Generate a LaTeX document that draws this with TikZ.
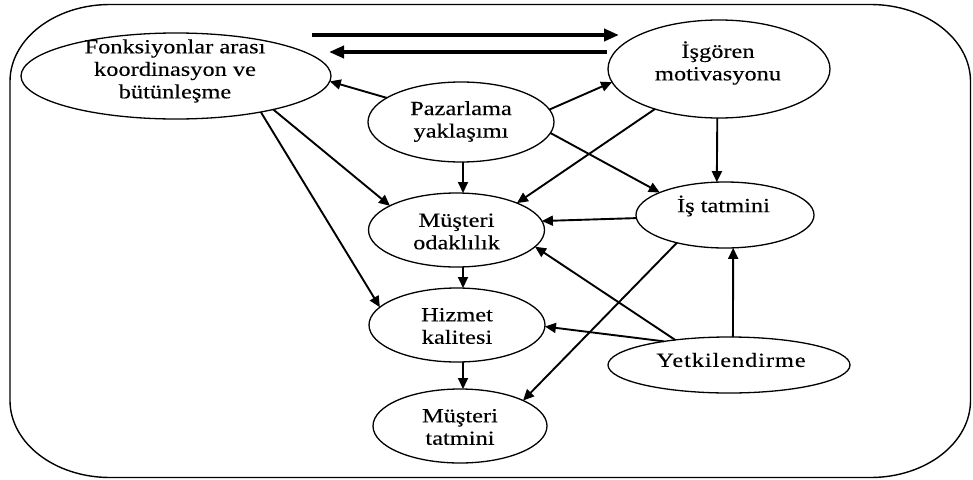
\documentclass[tikz,border=0pt]{standalone}
\usepackage{fontspec}
\newfontfamily\wideserif[FakeStretch=1.22,FakeBold=0.25]{Liberation Serif}
\newfontfamily\spacedserif[FakeStretch=1.22,FakeBold=0.25,LetterSpace=4.5]{Liberation Serif}
\usetikzlibrary{arrows.meta,shapes.geometric}
\begin{document}
\begin{tikzpicture}[x=1pt,y=-1pt,
  bubble/.style={draw, ellipse, line width=1.3pt, inner sep=0pt, outer sep=0pt},
  caption/.style={align=center, inner sep=0pt, font=\wideserif\fontsize{20}{22.5}\selectfont},
  link/.style={line width=1.9pt, -{Triangle[length=11pt,width=10pt]}},
  heavy/.style={line width=3.8pt, -{Triangle[length=15pt,width=12pt]}}]
\useasboundingbox (0,0) rectangle (973,479);

% outer frame with elliptic corners
\draw[line width=1.4pt] (110,4.5) -- (870.5,4.5)
  arc[start angle=90, end angle=0, x radius=100pt, y radius=77pt]
  -- (970.5,400.5)
  arc[start angle=0, end angle=-90, x radius=100pt, y radius=77pt]
  -- (110,477.5)
  arc[start angle=-90, end angle=-180, x radius=100pt, y radius=77pt]
  -- (10,81.5)
  arc[start angle=180, end angle=90, x radius=100pt, y radius=77pt] -- cycle;

% ellipses
\node[bubble, minimum width=310pt, minimum height=86pt] (F) at (176,76) {};
\node[bubble, minimum width=222pt, minimum height=98pt] (I) at (719,69) {};
\node[bubble, minimum width=186pt, minimum height=80pt] (P) at (461,122) {};
\node[bubble, minimum width=176pt, minimum height=74pt] (MO) at (456.5,230) {};
\node[bubble, minimum width=176pt, minimum height=74pt] (H) at (457,325) {};
\node[bubble, minimum width=174pt, minimum height=74pt] (MT) at (460,426) {};
\node[bubble, minimum width=178pt, minimum height=66pt] (IT) at (725,215) {};
\node[bubble, minimum width=242pt, minimum height=56pt] (Y) at (729,365) {};

% captions
\node[caption] (F-t) at (175,71) {Fonksiyonlar arası\\koordinasyon ve\\bütünleşme};
\node[caption] (I-t) at (718,63) {İşgören\\motivasyonu};
\node[caption] (P-t) at (461,121.5) {Pazarlama\\yaklaşımı};
\node[caption] (MO-t) at (456.5,231.5) {Müşteri\\odaklılık};
\node[caption] (H-t) at (457,326) {Hizmet\\kalitesi};
\node[caption] (MT-t) at (460,427) {Müşteri\\tatmini};
\node[caption] (IT-t) at (723.5,206) {İş tatmini};
\node[caption, font=\spacedserif\fontsize{20}{22.5}\selectfont] (Y-t) at (731,360) {Yetkilendirme};

% two-way link at the top
\coordinate (fwdA) at (312,35);
\coordinate (fwdB) at (619,35);
\coordinate (bckA) at (607,52);
\coordinate (bckB) at (329,52);
\draw[heavy] (fwdA) -- (fwdB);
\draw[heavy] (bckA) -- (bckB);

% connectors
\draw[link] (P.162) -- (F.-2);
\draw[link] (P.8) -- (I.187);
\draw[link] (F.-19) -- (MO.160);
\draw[link] (F.-23) -- (H.167);
\draw[link] ([xshift=2pt]P.south) -- ([xshift=6.5pt]MO.north);
\draw[link] (I.-148) -- (MO.24);
\draw[link] (P.-7) -- (IT.161);
\draw[link] (I.-92) -- (IT.104);
\draw[link] (IT.182) -- (MO.6);
\draw[link] (IT.-150) -- (MT.22);
\draw[link] (Y.155) -- (MO.-12);
\draw[link] (Y.160) -- (H.-1);
\draw[link] (Y.82) -- (IT.-76);
\draw[link] ([xshift=6.5pt]MO.south) -- ([xshift=6pt]H.north);
\draw[link] ([xshift=6pt]H.south) -- ([xshift=3pt]MT.north);
\end{tikzpicture}
\end{document}
